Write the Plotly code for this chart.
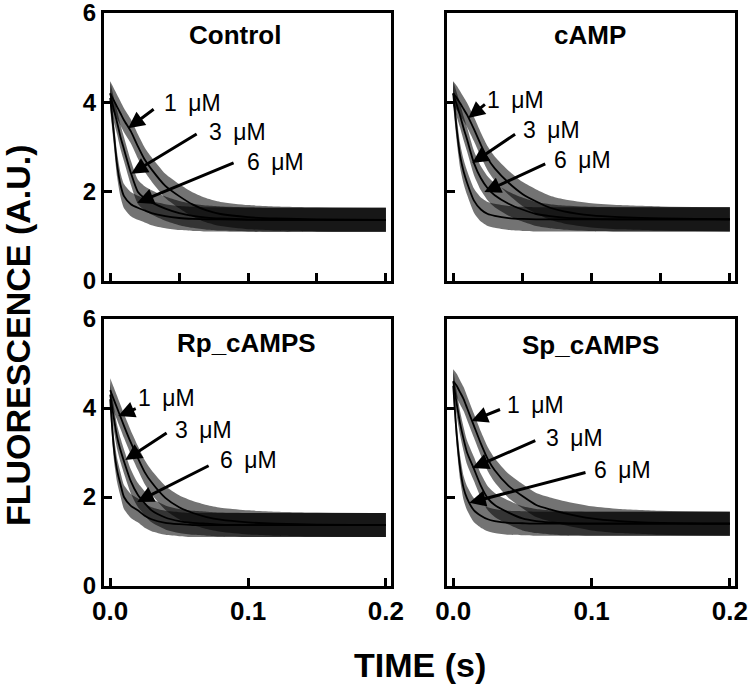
import plotly.graph_objects as go

# ---------------- data ----------------
time_s = [0, 0.0025, 0.005, 0.0075, 0.01, 0.015, 0.02, 0.025, 0.03, 0.04,
          0.05, 0.06, 0.07, 0.08, 0.1, 0.12, 0.15, 0.2]

panels = ["Control", "cAMP", "Rp_cAMPS", "Sp_cAMPS"]
concentrations = ["1 \u03bcM", "3 \u03bcM", "6 \u03bcM"]

control_1uM = [4.2, 4.05, 3.9, 3.75, 3.6, 3.35, 3.02, 2.72, 2.5, 2.13, 1.9, 1.71, 1.58, 1.5, 1.43, 1.4, 1.38, 1.37]
control_3uM = [4.2, 3.85, 3.55, 3.22, 2.95, 2.42, 2.0, 1.85, 1.76, 1.62, 1.52, 1.46, 1.42, 1.4, 1.38, 1.37, 1.37, 1.37]
control_6uM = [4.1, 3.35, 2.6, 2.15, 1.9, 1.72, 1.64, 1.58, 1.52, 1.45, 1.41, 1.39, 1.38, 1.38, 1.37, 1.37, 1.37, 1.37]

camp_1uM = [4.2, 4.1, 3.98, 3.85, 3.72, 3.4, 3.05, 2.74, 2.52, 2.2, 1.95, 1.78, 1.64, 1.56, 1.47, 1.43, 1.4, 1.38]
camp_3uM = [4.2, 3.95, 3.7, 3.42, 3.17, 2.64, 2.3, 2.07, 1.92, 1.73, 1.6, 1.5, 1.45, 1.42, 1.39, 1.38, 1.38, 1.38]
camp_6uM = [4.2, 3.4, 2.8, 2.45, 2.2, 1.8, 1.6, 1.5, 1.46, 1.41, 1.39, 1.38, 1.38, 1.38, 1.38, 1.38, 1.38, 1.38]

rp_1uM = [4.4, 4.2, 4.0, 3.8, 3.6, 3.22, 2.88, 2.56, 2.33, 1.98, 1.77, 1.64, 1.55, 1.49, 1.43, 1.4, 1.38, 1.37]
rp_3uM = [4.3, 3.8, 3.35, 3.05, 2.8, 2.35, 2.05, 1.86, 1.7, 1.54, 1.46, 1.42, 1.4, 1.38, 1.37, 1.37, 1.37, 1.37]
rp_6uM = [4.2, 3.15, 2.6, 2.28, 2.0, 1.8, 1.7, 1.58, 1.5, 1.42, 1.39, 1.37, 1.37, 1.37, 1.37, 1.37, 1.37, 1.37]

sp_1uM = [4.6, 4.5, 4.35, 4.2, 4.0, 3.6, 3.2, 2.85, 2.6, 2.25, 2.02, 1.82, 1.72, 1.64, 1.52, 1.46, 1.42, 1.4]
sp_3uM = [4.6, 4.1, 3.65, 3.3, 3.0, 2.63, 2.25, 1.97, 1.82, 1.65, 1.52, 1.46, 1.43, 1.41, 1.4, 1.4, 1.4, 1.4]
sp_6uM = [4.5, 3.4, 2.65, 2.2, 1.97, 1.7, 1.58, 1.5, 1.46, 1.42, 1.41, 1.4, 1.4, 1.4, 1.4, 1.4, 1.4, 1.4]

series = {
    "Control": [control_1uM, control_3uM, control_6uM],
    "cAMP": [camp_1uM, camp_3uM, camp_6uM],
    "Rp_cAMPS": [rp_1uM, rp_3uM, rp_6uM],
    "Sp_cAMPS": [sp_1uM, sp_3uM, sp_6uM],
}

noise_half = 0.27

x_ticks = [0.0, 0.1, 0.2]
x_tick_text = ["0.0", "0.1", "0.2"]
y_ticks = [0, 2, 4, 6]
y_tick_text = ["0", "2", "4", "6"]

# ---------------- layout ----------------
W, H = 750, 686
FONT = "Liberation Sans, Arial, sans-serif"

def px_x(p):
    return p / W

def px_y(p):
    return 1 - p / H

domains = {
    "Control": ((104, 391), (13, 281)),
    "cAMP": ((447, 735), (13, 281)),
    "Rp_cAMPS": ((104, 391), (319, 586)),
    "Sp_cAMPS": ((447, 735), (319, 586)),
}
axis_ids = {"Control": "", "cAMP": "2", "Rp_cAMPS": "3", "Sp_cAMPS": "4"}

fig = go.Figure()
layout = dict(
    template="none",
    width=W, height=H, margin=dict(l=0, r=0, t=0, b=0, autoexpand=False),
    plot_bgcolor="white", paper_bgcolor="white", showlegend=False,
    font=dict(family=FONT, color="black"),
)

XR = [-0.0045, 0.2037]
for name in panels:
    aid = axis_ids[name]
    (x0, x1), (y0, y1) = domains[name]
    bottom = name in ("Rp_cAMPS", "Sp_cAMPS")
    left = name in ("Control", "Rp_cAMPS")
    xa = dict(
        domain=[px_x(x0), px_x(x1)], range=XR, anchor="y" + aid,
        automargin=False, ticklabeloverflow="allow",
        showline=True, mirror=True, linecolor="black", linewidth=3,
        showgrid=False, zeroline=False,
        ticks="inside", ticklen=8, tickwidth=2.5, tickcolor="black",
        showticklabels=bottom,
        tickfont=dict(family=FONT, size=26, color="black", weight="bold"),
    )
    if bottom:
        xa.update(tickmode="array", tickvals=x_ticks, ticktext=x_tick_text)
    else:
        xa.update(tickmode="linear", tick0=0, dtick=0.05)
    layout["xaxis" + aid] = xa
    layout["yaxis" + aid] = dict(
        domain=[px_y(y1), px_y(y0)], range=[0, 6], anchor="x" + aid,
        automargin=False, ticklabeloverflow="allow",
        showline=True, mirror=True, linecolor="black", linewidth=3,
        showgrid=False, zeroline=False,
        ticks="inside", ticklen=8, tickwidth=2.5, tickcolor="black",
        tickmode="array", tickvals=y_ticks, ticktext=y_tick_text,
        showticklabels=left,
        tickfont=dict(family=FONT, size=24, color="black", weight="bold"),
    )

    xr, yr = "x" + aid, "y" + aid
    for curve in series[name]:
        upper = [v + noise_half for v in curve]
        lower = [v - noise_half for v in curve]
        fig.add_trace(go.Scatter(
            x=time_s, y=lower, xaxis=xr, yaxis=yr, mode="lines",
            line=dict(width=0, shape="spline", smoothing=0.6, color="rgba(0,0,0,0)"),
            hoverinfo="skip",
        ))
        fig.add_trace(go.Scatter(
            x=time_s, y=upper, xaxis=xr, yaxis=yr, mode="lines", fill="tonexty",
            line=dict(width=0, shape="spline", smoothing=0.6, color="rgba(0,0,0,0)"),
            fillcolor="rgba(0,0,0,0.55)", hoverinfo="skip",
        ))
    for curve in series[name]:
        fig.add_trace(go.Scatter(
            x=time_s, y=curve, xaxis=xr, yaxis=yr, mode="lines",
            line=dict(color="black", width=1.8, shape="spline", smoothing=0.6),
        ))

fig.update_layout(**layout)

# ---------------- annotations ----------------
annotations = []
title_pos = {"Control": (235, 35), "cAMP": (590, 35), "Rp_cAMPS": (247, 343), "Sp_cAMPS": (590, 345)}
for name in panels:
    cx, cy = title_pos[name]
    annotations.append(dict(
        x=px_x(cx), y=px_y(cy), xref="paper", yref="paper", text=name,
        showarrow=False, xanchor="center", yanchor="middle",
        font=dict(family=FONT, size=26, color="black", weight="bold"),
    ))

# arrows: (text centre t, y), (tail t, y), (head t, y)
arrow_defs = {
    "Control": [((0.0594, 3.98), (0.0326, 3.87), (0.0130, 3.42)),
                ((0.0920, 3.34), (0.0638, 3.31), (0.0152, 2.40)),
                ((0.1196, 2.66), (0.0906, 2.66), (0.0196, 1.75))],
    "cAMP": [((0.0451, 4.05), (0.0240, 3.98), (0.0109, 3.65)),
             ((0.0713, 3.38), (0.0458, 3.31), (0.0138, 2.64)),
             ((0.0938, 2.71), (0.0676, 2.64), (0.0225, 1.99))],
    "Rp_cAMPS": [((0.0406, 4.22), (0.0196, 4.00), (0.0058, 3.82)),
                 ((0.0674, 3.51), (0.0420, 3.46), (0.0109, 2.83)),
                 ((0.1000, 2.83), (0.0725, 2.72), (0.0196, 1.89))],
    "Sp_cAMPS": [((0.0596, 4.07), (0.0349, 3.98), (0.0131, 3.71)),
                 ((0.0880, 3.33), (0.0604, 3.28), (0.0138, 2.65)),
                 ((0.1222, 2.61), (0.0967, 2.56), (0.0116, 1.87))],
}
for name in panels:
    aid = axis_ids[name]
    for conc, (txt, tail, head) in zip(concentrations, arrow_defs[name]):
        annotations.append(dict(
            x=head[0], y=head[1], ax=tail[0], ay=tail[1],
            xref="x" + aid, yref="y" + aid, axref="x" + aid, ayref="y" + aid,
            text="", showarrow=True, arrowhead=2, arrowsize=1.1,
            arrowwidth=3, arrowcolor="black", standoff=0, startstandoff=0,
        ))
        annotations.append(dict(
            x=txt[0], y=txt[1], xref="x" + aid, yref="y" + aid,
            text=conc.replace(" ", "\u2002"),
            showarrow=False, xanchor="center", yanchor="middle",
            font=dict(family=FONT, size=23, color="black"),
        ))

annotations.append(dict(
    x=px_x(18), y=px_y(335), xref="paper", yref="paper",
    text="FLUORESCENCE (A.U.)", textangle=-90, showarrow=False,
    xanchor="center", yanchor="middle",
    font=dict(family=FONT, size=34, color="black", weight="bold"),
))
annotations.append(dict(
    x=px_x(420), y=px_y(665), xref="paper", yref="paper",
    text="TIME (s)", showarrow=False, xanchor="center", yanchor="middle",
    font=dict(family=FONT, size=34, color="black", weight="bold"),
))

fig.update_layout(annotations=annotations)
fig.write_html(
    "out.html",
    config={"displayModeBar": False},
    post_script="document.body.style.margin='0';document.body.style.overflow='hidden';",
)
